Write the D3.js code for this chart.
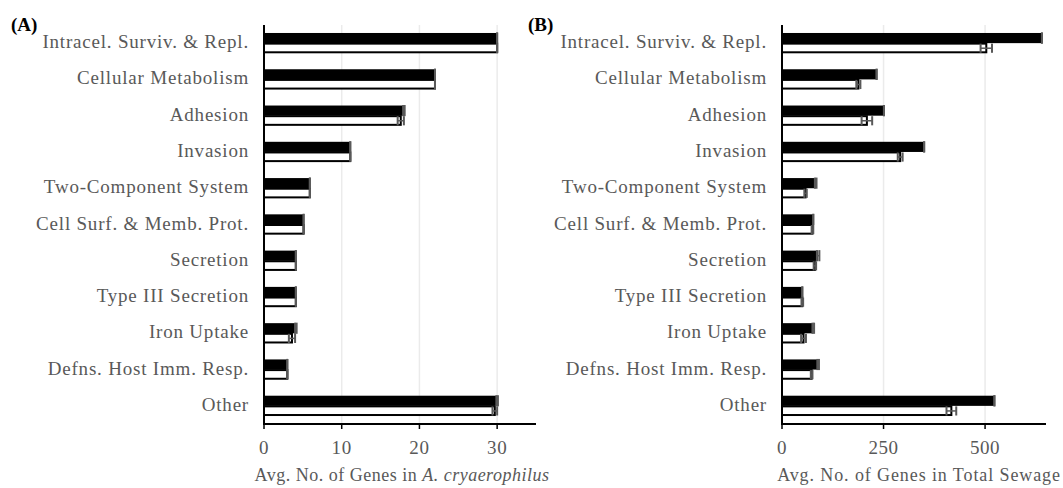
<!DOCTYPE html>
<html>
<head>
<meta charset="utf-8">
<script src="https://cdn.jsdelivr.net/npm/d3@7"></script>
<style>
  html, body { margin: 0; padding: 0; background: #fff; }
  svg { display: block; }
</style>
</head>
<body>
<svg id="chart" width="1063" height="488" font-family="'Liberation Serif', Tinos, 'Times New Roman', Times, serif"></svg>
<script>
const categories = [
  "Intracel. Surviv. & Repl.",
  "Cellular Metabolism",
  "Adhesion",
  "Invasion",
  "Two-Component System",
  "Cell Surf. & Memb. Prot.",
  "Secretion",
  "Type III Secretion",
  "Iron Uptake",
  "Defns. Host Imm. Resp.",
  "Other"
];

// Panel A: Avg. No. of Genes in A. cryaerophilus
const aBlack    = [30, 22, 18, 11.1, 5.9, 5.1, 4.1, 4.1, 4.1, 3.0, 30];
const aBlackErr = [0, 0, 0.1, 0, 0, 0, 0, 0, 0.1, 0, 0.1];
const aWhite    = [30, 22, 17.6, 11.1, 5.9, 5.1, 4.1, 4.1, 3.6, 3.0, 29.7];
const aWhiteErr = [0, 0, 0.4, 0, 0, 0, 0, 0, 0.4, 0, 0.3];
const aTicks = [0, 10, 20, 30];
const aMax = 35;

// Panel B: Avg. No. of Genes in Total Sewage
const bBlack    = [640, 233, 251, 350, 83, 77, 89, 50, 77, 89, 523];
const bBlackErr = [0, 0, 0, 0, 2, 0, 3, 0, 2, 2, 0];
const bWhite    = [503, 188, 209, 291, 58, 75, 81, 50, 53, 73, 417];
const bWhiteErr = [14, 5, 13, 6, 3, 2, 3, 2, 6, 2, 12];
const bTicks = [0, 250, 500];
const bMax = 650;

const svg = d3.select("#chart");
const labelColor = "#595959";
const errColor = "#595959";

function panel(opts) {
  const g = svg.append("g");
  const x = d3.scaleLinear().domain([0, opts.max]).range([opts.x0, opts.x1]);
  const y = d3.scaleBand().domain(categories).range([25, 424])
    .paddingInner(0.44).paddingOuter(0.22);
  const sub = d3.scaleBand().domain(["black", "white"]).range([0, y.bandwidth()]);

  // gridlines
  g.selectAll("line.grid").data(opts.ticks.filter(t => t > 0)).join("line")
    .attr("x1", d => x(d)).attr("x2", d => x(d))
    .attr("y1", 25).attr("y2", 424)
    .attr("stroke", "#ebebeb").attr("stroke-width", 1.5);

  const rows = categories.map((c, i) => ({
    c, b: opts.black[i], be: opts.blackErr[i], w: opts.white[i], we: opts.whiteErr[i]
  }));

  // black bars
  g.selectAll("rect.black").data(rows).join("rect")
    .attr("x", x(0))
    .attr("y", d => y(d.c) + sub("black"))
    .attr("width", d => x(d.b) - x(0))
    .attr("height", sub.bandwidth())
    .attr("fill", "#000");

  // white bars
  g.selectAll("rect.white").data(rows).join("rect")
    .attr("x", x(0))
    .attr("y", d => y(d.c) + sub("white") + 0.5)
    .attr("width", d => x(d.w) - x(0))
    .attr("height", sub.bandwidth() - 1.5)
    .attr("fill", "#fff").attr("stroke", "#000").attr("stroke-width", 2);

  // error bars
  function errbars(key, val, err, capH) {
    const eg = g.selectAll("g.err-" + key).data(rows).join("g");
    eg.each(function(d) {
      const v = d[val], e = d[err];
      const cy = y(d.c) + sub(key) + sub.bandwidth() / 2;
      const sel = d3.select(this);
      const h = capH / 2;
      sel.append("line")
        .attr("x1", x(v - e)).attr("x2", x(v + e)).attr("y1", cy).attr("y2", cy)
        .attr("stroke", errColor).attr("stroke-width", 1.5);
      [v - e, v + e].forEach(p => {
        sel.append("line")
          .attr("x1", x(p)).attr("x2", x(p)).attr("y1", cy - h).attr("y2", cy + h)
          .attr("stroke", errColor).attr("stroke-width", 2);
      });
    });
  }
  errbars("black", "b", "be", sub.bandwidth() + 1);
  errbars("white", "w", "we", sub.bandwidth() - 1);

  // category labels
  g.selectAll("text.cat").data(categories).join("text")
    .attr("x", opts.x0 - 15)
    .attr("y", d => y(d) + y.bandwidth() / 2 + 5)
    .attr("text-anchor", "end")
    .attr("fill", labelColor)
    .attr("font-size", 19)
    .attr("letter-spacing", 0.8)
    .text(d => d);

  // axes lines
  g.append("line").attr("x1", x(0)).attr("x2", x(0)).attr("y1", 25).attr("y2", 425)
    .attr("stroke", "#000").attr("stroke-width", 2);
  g.append("line").attr("x1", x(0) - 1).attr("x2", opts.x1).attr("y1", 424).attr("y2", 424)
    .attr("stroke", "#000").attr("stroke-width", 2);

  // x ticks
  g.selectAll("line.tick").data(opts.ticks).join("line")
    .attr("x1", d => x(d)).attr("x2", d => x(d)).attr("y1", 424).attr("y2", 429)
    .attr("stroke", "#000").attr("stroke-width", 1.5);
  g.selectAll("text.tick").data(opts.ticks).join("text")
    .attr("x", d => x(d)).attr("y", 454)
    .attr("text-anchor", "middle").attr("fill", labelColor).attr("font-size", 19)
    .attr("letter-spacing", 0.6)
    .text(d => d);

  // axis title
  const t = g.append("text")
    .attr("x", opts.titleX).attr("y", 481)
    .attr("text-anchor", "middle").attr("fill", labelColor).attr("font-size", 18)
    .attr("letter-spacing", opts.titleSpacing);
  opts.title.forEach(part => {
    t.append("tspan").attr("font-style", part.italic ? "italic" : "normal").text(part.text);
  });

  // panel letter
  svg.append("text").attr("x", opts.letterX).attr("y", 31)
    .attr("font-size", 19).attr("font-weight", "bold").attr("fill", "#000")
    .text(opts.letter);
}

panel({
  x0: 264, x1: 536, max: aMax, ticks: aTicks,
  black: aBlack, blackErr: aBlackErr, white: aWhite, whiteErr: aWhiteErr,
  title: [{text: "Avg. No. of Genes in "}, {text: "A. cryaerophilus", italic: true}],
  titleX: 402, titleSpacing: 0.5,
  letter: "(A)", letterX: 11
});
panel({
  x0: 782, x1: 1046, max: bMax, ticks: bTicks,
  black: bBlack, blackErr: bBlackErr, white: bWhite, whiteErr: bWhiteErr,
  title: [{text: "Avg. No. of Genes in Total Sewage"}],
  titleX: 919, titleSpacing: 0.9,
  letter: "(B)", letterX: 528
});
</script>
</body>
</html>
